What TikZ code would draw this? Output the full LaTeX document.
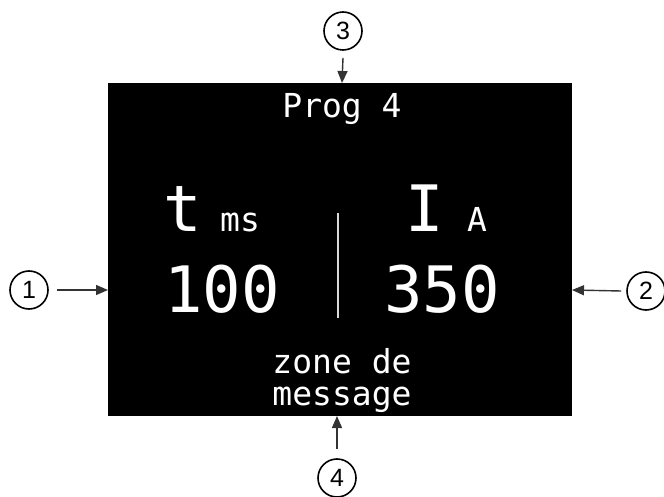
\documentclass[tikz,border=0pt]{standalone}
\usepackage{fontspec}
\setmainfont{Liberation Sans}
\newfontfamily\monofont{DejaVu Sans Mono}
\usetikzlibrary{arrows.meta,positioning}
\tikzset{
  screen/.style={fill=black,draw=none},
  lcd/.style={text=white,inner sep=0pt,text height=0.75em,text depth=0.2em,font=\monofont\fontsize{33}{36}\selectfont},
  lcdbig/.style={text=white,inner sep=0pt,text height=0.74em,text depth=0pt,font=\monofont\fontsize{64}{70}\selectfont},
  callout/.style={circle,draw=black,line width=1.6pt,minimum size=38pt,inner sep=0pt,font=\fontsize{25}{27}\selectfont},
  arrow/.style={-{Triangle[length=12pt,width=10pt]},line width=1.4pt,black!80}
}
\begin{document}
\begin{tikzpicture}[x=1pt,y=-1pt]
    \useasboundingbox (0,0) rectangle (664,497);
    \fill[screen] (108,83) rectangle (572,416);
    \coordinate (west) at (108,290);
    \coordinate (east) at (572,290);
    \coordinate (north) at (342,83);
    \coordinate (south) at (337,416);
    % screen texts
    \node[lcd,anchor=base] (prog) at (342,118) {Prog 4};
    \node[lcdbig,anchor=base west] (time) at (163,232) {t};
    \node[lcd,anchor=base west] (tunit) at (220,232) {ms};
    \node[lcdbig,anchor=base west] (amp) at (405,232) {I};
    \node[lcd,anchor=base west] (aunit) at (467,232) {A};
    \node[lcdbig,anchor=base] (tval) at (222,312) {100};
    \node[lcdbig,anchor=base] (aval) at (442,312) {350};
    \node[lcd,anchor=base] (zone) at (342,373) {zone de};
    \node[lcd,anchor=base] (msg) at (342,405) {message};
    \draw[white!85!black,line width=1.2pt] (338,213) -- (338,318);
    % callouts
    \node[callout] (c1) at (29,290) {1};
    \node[callout] (c2) at (646,291) {2};
    \node[callout] (c3) at (343,31) {3};
    \node[callout] (c4) at (337,478) {4};
    \draw[arrow] (c1.east) ++(8,0) -- (west);
    \draw[arrow] (c2.west) ++(-5,0) -- (east);
    \draw[arrow] (c3.south) ++(0,7) -- (north);
    \draw[arrow] (c4.north) ++(0,-9) -- (south);
\end{tikzpicture}
\end{document}
